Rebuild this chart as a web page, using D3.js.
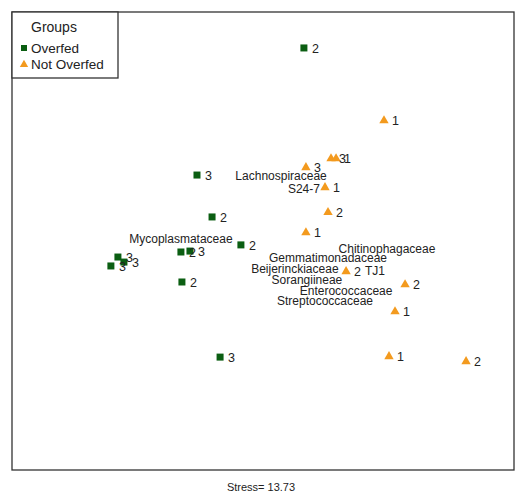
<!DOCTYPE html>
<html>
<head>
<meta charset="utf-8">
<script src="https://cdn.jsdelivr.net/npm/d3@7"></script>
<style>
  body { margin: 0; background: #fff; }
  svg { font-family: "Liberation Sans", Arial, sans-serif; }
</style>
</head>
<body>
<div id="chart"></div>
<script>
// NMDS site scores
const overfedX = [0.163, -0.263, -0.203, -0.088, -0.327, -0.291, -0.323, -0.171, -0.578, -0.554, -0.606];
const overfedY = [0.843, 0.288, 0.105, -0.017, -0.048, -0.044, -0.179, -0.507, -0.070, -0.092, -0.109];
const overfedLabels = ["2", "3", "2", "2", "2", "3", "2", "3", "3", "3", "3"];

const notOverfedX = [0.482, 0.271, 0.291, 0.171, 0.247, 0.259, 0.171, 0.331, 0.566, 0.526, 0.502, 0.809];
const notOverfedY = [0.528, 0.362, 0.362, 0.323, 0.236, 0.127, 0.039, -0.131, -0.188, -0.306, -0.502, -0.524];
const notOverfedLabels = ["1", "3", "1", "3", "1", "2", "1", "2", "2", "1", "1", "2"];

// species scores (taxa)
const taxa = ["Lachnospiraceae", "S24-7", "Mycoplasmataceae", "Chitinophagaceae", "Gemmatimonadaceae",
  "Beijerinckiaceae", "TJ1", "Sorangiineae", "Enterococcaceae", "Streptococcaceae"];
const taxaX = [0.072, 0.163, -0.327, 0.494, 0.259, 0.127, 0.446, 0.175, 0.331, 0.247];
const taxaY = [0.284, 0.227, 0.009, -0.035, -0.074, -0.122, -0.131, -0.170, -0.218, -0.262];

const stress = 13.73;

const width = 515, height = 496;
const frameL = 12, frameR = 514, frameT = 12, frameB = 470;

const svg = d3.select("#chart").append("svg")
  .attr("width", width)
  .attr("height", height);

const x = d3.scaleLinear().domain([-1, 1]).range([263 - 251, 263 + 251]);
const y = d3.scaleLinear().domain([-1, 1]).range([241 + 229, 241 - 229]);

const green = "#0b5e12";
const orange = "#f39a1e";

// plot frame
svg.append("rect")
  .attr("x", frameL).attr("y", frameT)
  .attr("width", frameR - frameL).attr("height", frameB - frameT)
  .attr("fill", "none").attr("stroke", "#333").attr("stroke-width", 1.3);

const overfed = overfedX.map((v, i) => ({ x: v, y: overfedY[i], lab: overfedLabels[i] }));
const notOverfed = notOverfedX.map((v, i) => ({ x: v, y: notOverfedY[i], lab: notOverfedLabels[i] }));

const tri = d3.symbol().type(d3.symbolTriangle).size(38);

svg.selectAll(".sq").data(overfed).enter().append("rect")
  .attr("x", d => x(d.x) - 3.5)
  .attr("y", d => y(d.y) - 3.5)
  .attr("width", 7).attr("height", 7)
  .attr("fill", green);

svg.selectAll(".tri").data(notOverfed).enter().append("path")
  .attr("d", tri)
  .attr("transform", d => `translate(${x(d.x)},${y(d.y) + 0.5})`)
  .attr("fill", orange);

// sample labels
svg.selectAll(".lab").data(overfed.concat(notOverfed)).enter().append("text")
  .attr("x", d => x(d.x) + 8)
  .attr("y", d => y(d.y))
  .attr("dy", "0.38em")
  .attr("font-size", 12.5)
  .attr("fill", "#222")
  .text(d => d.lab);

// taxa labels
svg.selectAll(".taxa").data(taxa).enter().append("text")
  .attr("x", (d, i) => x(taxaX[i]))
  .attr("y", (d, i) => y(taxaY[i]))
  .attr("dy", "0.36em")
  .attr("text-anchor", "middle")
  .attr("font-size", 12)
  .attr("fill", "#222")
  .text(d => d);

// legend
const lg = svg.append("g");
lg.append("rect")
  .attr("x", 12).attr("y", 12).attr("width", 106).attr("height", 66)
  .attr("fill", "#fff").attr("stroke", "#333").attr("stroke-width", 1.3);
lg.append("text").attr("x", 31).attr("y", 32).attr("font-size", 14).attr("fill", "#222").text("Groups");
lg.append("rect").attr("x", 21).attr("y", 45).attr("width", 6).attr("height", 6).attr("fill", green);
lg.append("text").attr("x", 31).attr("y", 48).attr("dy", "0.36em").attr("font-size", 13.5).attr("fill", "#222").text("Overfed");
lg.append("path").attr("d", d3.symbol().type(d3.symbolTriangle).size(30))
  .attr("transform", "translate(24,64.5)").attr("fill", orange);
lg.append("text").attr("x", 31).attr("y", 64).attr("dy", "0.36em").attr("font-size", 13.5).attr("fill", "#222").text("Not Overfed");

// stress caption
svg.append("text")
  .attr("x", 261).attr("y", 491)
  .attr("text-anchor", "middle")
  .attr("font-size", 11)
  .attr("fill", "#222")
  .text("Stress= " + stress);
</script>
</body>
</html>
